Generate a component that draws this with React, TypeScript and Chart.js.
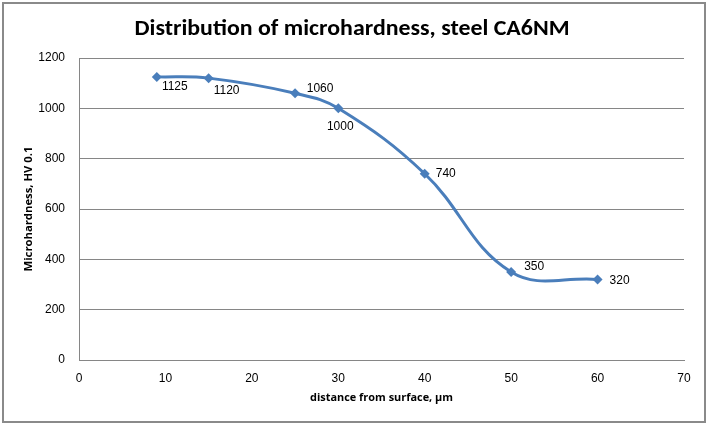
import React, { useEffect, useRef } from "react";
import { Chart, registerables } from "chart.js";

Chart.register(...registerables);

const TITLE = "Distribution of microhardness, steel CA6NM";
const X_TITLE = "distance from surface, \u00b5m";
const Y_TITLE = "Microhardness, HV 0.1";

const distances = [9, 15, 25, 30, 40, 50, 60];
const hardness = [1125, 1120, 1060, 1000, 740, 350, 320];
const pointLabels = ["1125", "1120", "1060", "1000", "740", "350", "320"];
// label offsets relative to each marker (px)
const labelDx = [18, 18, 25, 2, 21, 23, 22];
const labelDy = [10, 13, -5, 18, 0, -5, 1];

const X_MIN = 0, X_MAX = 70, X_STEP = 10;
const Y_MIN = 0, Y_MAX = 1200, Y_STEP = 200;

const LINE_COLOR = "#4A7EBB";
const GRID_COLOR = "#868686";
const TEXT_FONT = '"Liberation Sans", Arial, sans-serif';

const textPlugin = {
  id: "customText",
  afterDatasetsDraw(chart: any) {
    const ctx = chart.ctx;
    const meta = chart.getDatasetMeta(0);
    ctx.save();
    // data labels
    ctx.fillStyle = "#000";
    ctx.font = `12px ${TEXT_FONT}`;
    ctx.textAlign = "center";
    ctx.textBaseline = "middle";
    meta.data.forEach((pt: any, i: number) => {
      ctx.fillText(pointLabels[i], pt.x + labelDx[i], pt.y + labelDy[i]);
    });
    const area = chart.chartArea;
    // title
    ctx.font = `bold 22px Calibri, "Liberation Sans Narrow", "Open Sans", sans-serif`;
    const w = ctx.measureText(TITLE).width;
    const target = 435;
    ctx.save();
    ctx.translate(352, 29);
    ctx.scale(target / w, 1);
    ctx.fillText(TITLE, 0, 0);
    ctx.restore();
    // x title
    ctx.font = `bold 11px "Liberation Sans Narrow", "Open Sans", sans-serif`;
    const wx = ctx.measureText(X_TITLE).width;
    ctx.save();
    ctx.translate((area.left + area.right) / 2, 398);
    ctx.scale(143 / wx, 1);
    ctx.fillText(X_TITLE, 0, 0);
    ctx.restore();
    // y title
    const wy = ctx.measureText(Y_TITLE).width;
    ctx.save();
    ctx.translate(29, (area.top + area.bottom) / 2);
    ctx.rotate(-Math.PI / 2);
    ctx.scale(125 / wy, 1);
    ctx.fillText(Y_TITLE, 0, 0);
    ctx.restore();
    ctx.restore();
  },
};

function ChartCanvas() {
  const ref = useRef<HTMLCanvasElement | null>(null);
  useEffect(() => {
    document.body.style.margin = "0";
    if (!ref.current) return;
    const chart = new Chart(ref.current, {
      type: "line",
      data: {
        datasets: [
          {
            data: distances.map((x, i) => ({ x, y: hardness[i] })),
            borderColor: LINE_COLOR,
            backgroundColor: LINE_COLOR,
            borderWidth: 3,
            tension: 0.4,
            pointStyle: "rectRot",
            pointRadius: 5,
            pointHoverRadius: 5,
            pointBorderWidth: 0,
            fill: false,
          },
        ],
      },
      options: {
        responsive: false,
        animation: false,
        events: [],
        layout: { padding: { left: 0, top: 58, right: 24, bottom: 0 } },
        plugins: {
          legend: { display: false },
          title: { display: false },
          tooltip: { enabled: false },
        },
        scales: {
          x: {
            type: "linear",
            min: X_MIN,
            max: X_MAX,
            ticks: {
              stepSize: X_STEP,
              color: "#000",
              font: { size: 12, family: TEXT_FONT },
              padding: 11,
              maxRotation: 0,
              callback: (v: any) => String(v),
            },
            grid: { display: false, drawTicks: false },
            border: { display: true, color: GRID_COLOR, width: 1 },
            afterFit: (scale: any) => {
              scale.height = 65;
            },
          },
          y: {
            min: Y_MIN,
            max: Y_MAX,
            ticks: {
              stepSize: Y_STEP,
              color: "#000",
              font: { size: 12, family: TEXT_FONT },
              padding: 14,
              callback: (v: any) => String(v),
            },
            grid: { color: GRID_COLOR, drawTicks: false },
            border: { display: true, color: GRID_COLOR, width: 1 },
            afterFit: (scale: any) => {
              scale.width = 79;
            },
          },
        },
      },
      plugins: [textPlugin],
    } as any);
    return () => chart.destroy();
  }, []);
  return <canvas ref={ref} width={708} height={425} style={{ position: "absolute", left: 0, top: 0 }} />;
}

export default function App() {
  return (
    <div style={{ position: "relative", width: 708, height: 425, background: "#fff" }}>
      <div
        style={{
          position: "absolute",
          left: 2,
          top: 2,
          width: 700,
          height: 417,
          border: "2px solid #8a8a8a",
          boxSizing: "content-box",
        }}
      />
      <ChartCanvas />
    </div>
  );
}
